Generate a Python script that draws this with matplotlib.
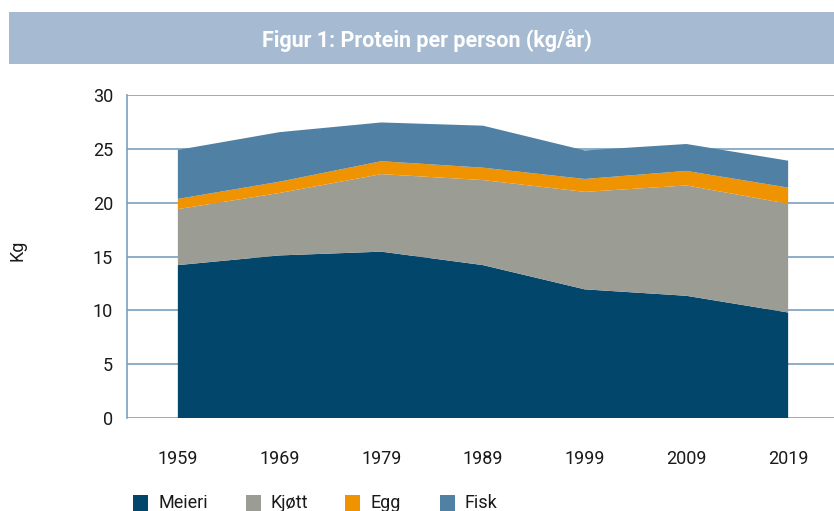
import matplotlib
matplotlib.use("Agg")
import matplotlib.pyplot as plt
from matplotlib.patches import Rectangle

years = [1959, 1969, 1979, 1989, 1999, 2009, 2019]
meieri = [14.2, 15.1, 15.45, 14.2, 11.95, 11.35, 9.8]
kjott = [5.2, 5.8, 7.2, 7.9, 9.05, 10.25, 10.1]
egg = [0.95, 1.05, 1.2, 1.15, 1.2, 1.35, 1.5]
fisk = [4.55, 4.6, 3.6, 3.9, 2.65, 2.5, 2.5]
series_names = ["Meieri", "Kjøtt", "Egg", "Fisk"]
yticks = [0, 5, 10, 15, 20, 25, 30]

colors = ["#03466c", "#9b9c93", "#f09300", "#5081a5"]
grid_c = "#7a9fbd"

plt.rcParams['font.family'] = ['Roboto', 'DejaVu Sans']

W, H = 834, 511
fig = plt.figure(figsize=(W / 100, H / 100), dpi=100)

# title band
band = Rectangle((9 / W, 1 - 64 / H), 1 - 9 / W, 52 / H, transform=fig.transFigure,
                 facecolor="#a6bbd2", edgecolor="none")
fig.patches.append(band)
fig.text(427 / W, 1 - 40 / H, "Figur 1: Protein per person (kg/år)", color="white",
         fontsize=15.5, fontweight="bold", ha="center", va="center")

x0, x1 = 127, 839
y0, y1 = 418, 95
ax = fig.add_axes([x0 / W, 1 - y0 / H, (x1 - x0) / W, (y0 - y1) / H])
xs = list(range(len(years)))
ax.stackplot(xs, meieri, kjott, egg, fisk, colors=colors, labels=series_names,
             linewidth=0, zorder=3)
ax.set_xlim(-0.5, len(years) - 0.5)
ax.set_ylim(0, 30)
ax.set_yticks(yticks)
ax.set_xticks(xs)
ax.set_xticklabels([str(y) for y in years])
ax.grid(axis="y", color=grid_c, linewidth=1.2, zorder=0)
for s in ["top", "right", "bottom"]:
    ax.spines[s].set_visible(False)
ax.spines["left"].set_color(grid_c)
ax.spines["left"].set_linewidth(1.2)
ax.tick_params(axis="both", length=0, labelsize=13, colors="#1a1a1a")
ax.tick_params(axis="x", pad=23)
ax.tick_params(axis="y", pad=10)
fig.text(18 / W, 1 - 250 / H, "Kg", fontsize=13, color="#1a1a1a", rotation=90,
         ha="center", va="center")

# legend
lx = [133, 246, 345, 440]
for name, c, px in zip(series_names, colors, lx):
    fig.patches.append(Rectangle((px / W, 1 - 511 / H), 15 / W, 16 / H,
                                 transform=fig.transFigure, facecolor=c, edgecolor="none"))
    fig.text((px + 25) / W, 1 - 503 / H, name, fontsize=13, color="#1a1a1a",
             ha="left", va="center")

fig.savefig("out.png", dpi=100)
